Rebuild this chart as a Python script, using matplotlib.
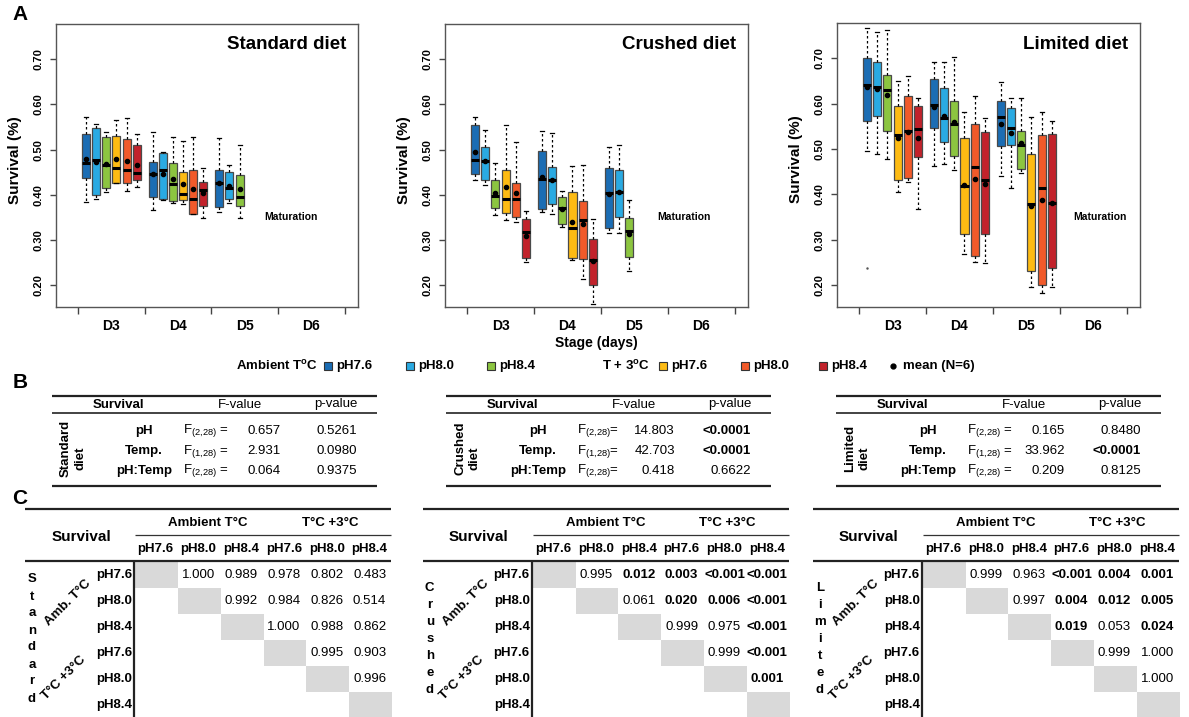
import matplotlib
matplotlib.use('Agg')
import matplotlib.pyplot as plt
from matplotlib.patches import Rectangle
from matplotlib import font_manager as fm


def has_font(name):
    try:
        fm.findfont(fm.FontProperties(family=name), fallback_to_default=False)
        return True
    except Exception:
        return False


FONT = 'Liberation Sans' if has_font('Liberation Sans') else 'DejaVu Sans'
plt.rcParams['font.family'] = [FONT, 'DejaVu Sans']
plt.rcParams['mathtext.default'] = 'regular'

# ---------------------------------------------------------------- data
DAYS = ['D3', 'D4', 'D5', 'D6']
TREATS = ['pH7.6', 'pH8.0', 'pH8.4', 'pH7.6', 'pH8.0', 'pH8.4']
COLORS = ['#1b6db4', '#2aaae2', '#8cc540', '#fdbb13', '#f15a2a', '#c2222b']

# Standard diet (per stage: per treatment)
STD_HI = [[0.572, 0.557, 0.538, 0.565, 0.570, 0.534],
          [0.540, 0.494, 0.527, 0.519, 0.527, 0.460],
          [0.526, 0.465, 0.510]]
STD_Q3 = [[0.535, 0.547, 0.528, 0.530, 0.524, 0.510],
          [0.473, 0.493, 0.471, 0.450, 0.454, 0.428],
          [0.455, 0.450, 0.444]]
STD_MED = [[0.471, 0.477, 0.465, 0.460, 0.455, 0.449],
           [0.447, 0.454, 0.423, 0.402, 0.391, 0.411],
           [0.426, 0.416, 0.396]]
STD_Q1 = [[0.437, 0.400, 0.415, 0.427, 0.426, 0.434],
          [0.395, 0.390, 0.386, 0.388, 0.357, 0.376],
          [0.373, 0.390, 0.375]]
STD_LO = [[0.384, 0.390, 0.406, 0.426, 0.409, 0.417],
          [0.366, 0.389, 0.381, 0.380, 0.357, 0.348],
          [0.363, 0.383, 0.349]]
STD_MEAN = [[0.479, 0.473, 0.468, 0.479, 0.474, 0.465],
            [0.446, 0.446, 0.435, 0.423, 0.412, 0.405],
            [0.427, 0.420, 0.412]]

# Crushed diet
CRU_HI = [[0.573, 0.544, 0.471, 0.555, 0.517, 0.365],
          [0.542, 0.536, 0.409, 0.464, 0.467, 0.347],
          [0.507, 0.510, 0.389]]
CRU_Q3 = [[0.555, 0.506, 0.432, 0.454, 0.427, 0.347],
          [0.496, 0.461, 0.395, 0.406, 0.387, 0.302],
          [0.460, 0.454, 0.348]]
CRU_MED = [[0.477, 0.476, 0.398, 0.392, 0.392, 0.317],
           [0.435, 0.432, 0.371, 0.327, 0.345, 0.256],
           [0.404, 0.407, 0.321]]
CRU_Q1 = [[0.447, 0.432, 0.372, 0.361, 0.350, 0.260],
          [0.368, 0.379, 0.336, 0.261, 0.258, 0.200],
          [0.326, 0.352, 0.262]]
CRU_LO = [[0.432, 0.421, 0.356, 0.345, 0.339, 0.251],
          [0.362, 0.358, 0.328, 0.255, 0.215, 0.159],
          [0.315, 0.315, 0.232]]
CRU_MEAN = [[0.494, 0.475, 0.404, 0.417, 0.404, 0.309],
            [0.440, 0.432, 0.368, 0.340, 0.336, 0.253],
            [0.402, 0.406, 0.313]]

# Limited diet
LIM_HI = [[0.766, 0.758, 0.763, 0.650, 0.662, 0.612],
          [0.693, 0.691, 0.704, 0.581, 0.617, 0.568],
          [0.649, 0.613, 0.612, 0.570, 0.581, 0.561]]
LIM_Q3 = [[0.700, 0.693, 0.664, 0.595, 0.617, 0.594],
          [0.654, 0.635, 0.607, 0.525, 0.556, 0.537],
          [0.605, 0.591, 0.540, 0.490, 0.531, 0.533]]
LIM_MED = [[0.641, 0.637, 0.631, 0.532, 0.539, 0.544],
           [0.597, 0.569, 0.555, 0.418, 0.461, 0.433],
           [0.570, 0.546, 0.510, 0.378, 0.415, 0.381]]
LIM_Q1 = [[0.563, 0.573, 0.540, 0.433, 0.437, 0.483],
          [0.547, 0.516, 0.484, 0.312, 0.265, 0.313],
          [0.507, 0.510, 0.457, 0.232, 0.200, 0.239]]
LIM_LO = [[0.495, 0.489, 0.479, 0.406, 0.427, 0.367],
          [0.463, 0.468, 0.455, 0.269, 0.252, 0.250],
          [0.440, 0.415, 0.447, 0.197, 0.182, 0.196]]
LIM_MEAN = [[0.636, 0.632, 0.619, 0.525, 0.538, 0.524],
            [0.592, 0.574, 0.559, 0.421, 0.435, 0.423],
            [0.556, 0.536, 0.513, 0.374, 0.387, 0.381]]
LIM_OUTLIER = 0.237   # lone point below D3 / ambient pH7.6

# Two-way ANOVA tables (panel B)
B_TERMS = ['pH', 'Temp.', 'pH:Temp']
B_DF = ['(2,28)', '(1,28)', '(2,28)']
STD_F = ['0.657', '2.931', '0.064']
STD_P = ['0.5261', '0.0980', '0.9375']
CRU_F = ['14.803', '42.703', '0.418']
CRU_P = ['<0.0001', '<0.0001', '0.6622']
LIM_F = ['0.165', '33.962', '0.209']
LIM_P = ['0.8480', '<0.0001', '0.8125']

# Pairwise comparisons (panel C), upper triangle row by row
STD_PW = [['1.000', '0.989', '0.978', '0.802', '0.483'],
          ['0.992', '0.984', '0.826', '0.514'],
          ['1.000', '0.988', '0.862'],
          ['0.995', '0.903'],
          ['0.996']]
CRU_PW = [['0.995', '0.012', '0.003', '<0.001', '<0.001'],
          ['0.061', '0.020', '0.006', '<0.001'],
          ['0.999', '0.975', '<0.001'],
          ['0.999', '<0.001'],
          ['0.001']]
LIM_PW = [['0.999', '0.963', '<0.001', '0.004', '0.001'],
          ['0.997', '0.004', '0.012', '0.005'],
          ['0.019', '0.053', '0.024'],
          ['0.999', '1.000'],
          ['1.000']]

# ---------------------------------------------------------------- figure
W, H = 1189, 717
fig = plt.figure(figsize=(W / 100, H / 100), dpi=100)
ov = fig.add_axes([0, 0, 1, 1], zorder=0)
ov.set_xlim(0, W)
ov.set_ylim(H, 0)
ov.set_axis_off()


def px_axes(left, top, right, bottom):
    return fig.add_axes([left / W, 1 - bottom / H, (right - left) / W, (bottom - top) / H], zorder=2)


def is_sig(s):
    return s.startswith('<') or float(s) < 0.05


def box_panel(ax, hi, q3, med, q1, lo, mean, title, mat_x, outlier=None):
    stats, pos = [], []
    for d in range(len(q1)):
        for i in range(len(q1[d])):
            st = dict(q1=q1[d][i], med=med[d][i], q3=q3[d][i], whislo=lo[d][i],
                      whishi=hi[d][i], mean=mean[d][i], fliers=[])
            if outlier is not None and d == 0 and i == 0:
                st['fliers'] = [outlier]
            stats.append(st)
            pos.append(d + 0.12 + 0.152 * i)
    bp = ax.bxp(stats, positions=pos, widths=0.12, capwidths=0.06, patch_artist=True,
                showmeans=True, showfliers=True,
                boxprops=dict(edgecolor='#4a4a4a', linewidth=0.9),
                medianprops=dict(color='black', linewidth=2.2, solid_capstyle='butt'),
                whiskerprops=dict(color='black', linewidth=0.9, linestyle=(0, (2.0, 2.0))),
                capprops=dict(color='black', linewidth=0.9),
                meanprops=dict(marker='o', markerfacecolor='black', markeredgecolor='black',
                               markersize=3.0),
                flierprops=dict(marker='.', markersize=1.5, markerfacecolor='#555',
                                markeredgecolor='#555'))
    k = 0
    for d in range(len(q1)):
        for i in range(len(q1[d])):
            bp['boxes'][k].set_facecolor(COLORS[i])
            k += 1
    ax.set_xlim(-0.33, 4.2)
    ax.set_ylim(0.152, 0.778)
    ax.set_xticks([0, 1, 2, 3, 4])
    ax.set_xticklabels([])
    ax.set_xticks([0.5, 1.5, 2.5, 3.5], minor=True)
    ax.set_xticklabels(DAYS, minor=True, fontsize=10, fontweight='bold')
    ax.tick_params(axis='x', which='major', length=5, width=1, color='#444')
    ax.tick_params(axis='x', which='minor', length=0, pad=9)
    yt = [0.2, 0.3, 0.4, 0.5, 0.6, 0.7]
    ax.set_yticks(yt)
    ax.set_yticklabels(['%.2f' % v for v in yt], rotation=90, va='center',
                       fontsize=8, fontweight='bold')
    ax.tick_params(axis='y', length=4, width=1, color='#444', pad=5)
    for sp in ax.spines.values():
        sp.set_color('#555555')
        sp.set_linewidth(1.0)
    ax.set_ylabel('Survival (%)', fontsize=11, fontweight='bold')
    ax.yaxis.set_label_coords(-0.112, 0.52)
    ax.text(0.962, 0.926, title, transform=ax.transAxes, ha='right', va='center',
            fontsize=13.5, fontweight='bold')
    ax.text(mat_x, 0.351, 'Maturation', ha='center', va='center', fontsize=7.5,
            fontweight='bold')


ax1 = px_axes(56, 24, 358, 307)
box_panel(ax1, STD_HI, STD_Q3, STD_MED, STD_Q1, STD_LO, STD_MEAN, 'Standard diet', 3.19)
ax2 = px_axes(445, 24, 748, 307)
box_panel(ax2, CRU_HI, CRU_Q3, CRU_MED, CRU_Q1, CRU_LO, CRU_MEAN, 'Crushed diet', 3.24)
ax2.set_xlabel('Stage (days)', fontsize=10, fontweight='bold', labelpad=2)
ax3 = px_axes(837, 23, 1140, 307)
box_panel(ax3, LIM_HI, LIM_Q3, LIM_MED, LIM_Q1, LIM_LO, LIM_MEAN, 'Limited diet', 3.6,
          outlier=LIM_OUTLIER)

# ---------------------------------------------------------------- legend row
LEG_Y = 366
ov.text(318, LEG_Y, 'Ambient T$^{o}$C', ha='right', va='center', fontsize=9.5, fontweight='bold')
ov.text(650, LEG_Y, 'T + 3$^{o}$C', ha='right', va='center', fontsize=9.5, fontweight='bold')
leg_sq_x = [328, 410, 491, 663, 745, 823]
for i, x in enumerate(leg_sq_x):
    ov.plot(x, LEG_Y, marker='s', ms=5.5, mfc=COLORS[i], mec='#333333', mew=0.8, ls='none')
    ov.text(x + 8, LEG_Y, TREATS[i], ha='left', va='center', fontsize=9.5, fontweight='bold')
ov.plot(893, LEG_Y, marker='o', ms=3.5, mfc='black', mec='black', ls='none')
ov.text(903, LEG_Y, 'mean (N=6)', ha='left', va='center', fontsize=9.5, fontweight='bold')

# ---------------------------------------------------------------- panel letters
for letter, (x, y) in zip('ABC', [(20, 15), (20, 383), (20, 499)]):
    ov.text(x, y, letter, ha='center', va='center', fontsize=15, fontweight='bold')

# ---------------------------------------------------------------- panel B tables
def anova_table(x0, diet, fvals, pvals, eq=' ='):
    x1 = x0 + 325
    ov.plot([x0, x1], [395.5, 395.5], color='#222222', lw=1.6, solid_capstyle='butt')
    ov.plot([x0, x1], [413, 413], color='#222222', lw=1.2, solid_capstyle='butt')
    ov.plot([x0, x1], [486, 486], color='#222222', lw=1.6, solid_capstyle='butt')
    ov.text(x0 + 66, 404.5, 'Survival', ha='center', va='center', fontsize=9.5, fontweight='bold')
    ov.text(x0 + 188, 404.5, 'F-value', ha='center', va='center', fontsize=9.5)
    ov.text(x0 + 284, 404.5, 'p-value', ha='center', va='center', fontsize=9.5)
    ov.text(x0 + 14, 448, diet, ha='center', va='center', rotation=90, fontsize=9.5,
            fontweight='bold')
    ov.text(x0 + 28, 458, 'diet', ha='center', va='center', rotation=90, fontsize=9.5,
            fontweight='bold')
    for r, y in enumerate([430.7, 451, 470.7]):
        df = B_DF[r].replace(',', '{,}')
        ov.text(x0 + 92, y, B_TERMS[r], ha='center', va='center', fontsize=9.5, fontweight='bold')
        ov.text(x0 + 131, y, 'F$_{%s}$%s' % (df, eq), ha='left', va='center', fontsize=9.5)
        ov.text(x0 + 229, y, fvals[r], ha='right', va='center', fontsize=9.5)
        ov.text(x0 + 305, y, pvals[r], ha='right', va='center', fontsize=9.5,
                fontweight='bold' if is_sig(pvals[r]) else 'normal')


anova_table(52, 'Standard', STD_F, STD_P)
anova_table(446, 'Crushed', CRU_F, CRU_P, eq='=')
anova_table(836, 'Limited', LIM_F, LIM_P)

# ---------------------------------------------------------------- panel C tables
def pair_table(x0, diet, pw):
    x1 = x0 + 366
    xv = x0 + 109
    cw = (x1 - xv) / 6.0
    rh = 26.0
    r0 = 562.0
    ov.plot([x0, x1], [509, 509], color='#222222', lw=1.6, solid_capstyle='butt')
    ov.plot([xv + 1, x1], [535, 535], color='#333333', lw=0.9, solid_capstyle='butt')
    ov.plot([x0, x1], [561, 561], color='#222222', lw=1.6, solid_capstyle='butt')
    ov.plot([xv, xv], [561, H], color='#222222', lw=1.6, solid_capstyle='butt')
    ov.text(x0 + 56, 536.7, 'Survival', ha='center', va='center', fontsize=11, fontweight='bold')
    ov.text(x0 + 183, 523, 'Ambient T°C', ha='center', va='center', fontsize=9.5, fontweight='bold')
    ov.text(x0 + 305, 523, 'T°C +3°C', ha='center', va='center', fontsize=9.5, fontweight='bold')
    for j in range(6):
        ov.text(xv + cw * (j + 0.5), 549.3, TREATS[j], ha='center', va='center', fontsize=9.5,
                fontweight='bold')
    for i in range(6):
        yc = r0 + rh * (i + 0.5)
        ov.add_patch(Rectangle((xv + cw * i + 1, r0 + rh * i), cw, rh, facecolor='#d9d9d9',
                               edgecolor='none'))
        ov.text(xv - 2, yc, TREATS[i], ha='right', va='center', fontsize=9.5, fontweight='bold')
        if i < 5:
            for k, s in enumerate(pw[i]):
                j = i + 1 + k
                ov.text(xv + cw * (j + 0.5), yc, s, ha='center', va='center', fontsize=9.5,
                        fontweight='bold' if is_sig(s) else 'normal')
    ov.text(x0 + 43, 603, 'Amb. T°C', ha='center', va='center', rotation=45,
            rotation_mode='anchor', fontsize=9.5, fontweight='bold')
    ov.text(x0 + 39, 678, 'T°C +3°C', ha='center', va='center', rotation=45,
            rotation_mode='anchor', fontsize=9.5, fontweight='bold')
    n = len(diet)
    for k, ch in enumerate(diet):
        ov.text(x0 + 7, 639 + (k - (n - 1) / 2.0) * 17, ch, ha='center', va='center',
                fontsize=9.5, fontweight='bold')


pair_table(25, 'Standard', STD_PW)
pair_table(422.7, 'Crushed', CRU_PW)
pair_table(812.7, 'Limited', LIM_PW)

fig.savefig('out.png', dpi=100)
